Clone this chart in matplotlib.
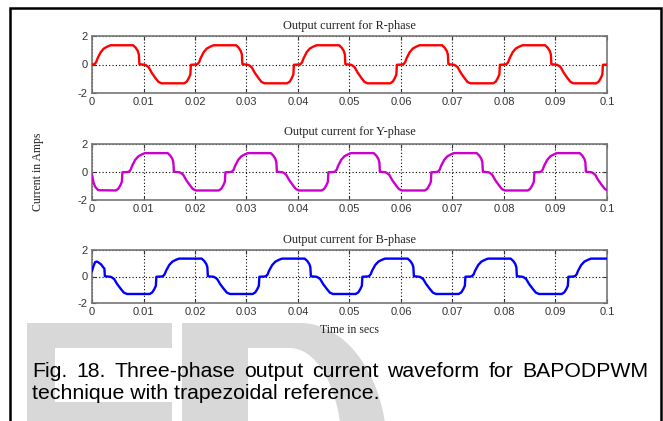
import numpy as np
import matplotlib
matplotlib.use('Agg')
import matplotlib.pyplot as plt
from matplotlib.patches import Polygon, Rectangle

W, H = 663, 421

# one period of the phase current, time measured from the start of the positive half-cycle
cycle_t = [0.0000, 0.0003, 0.0006, 0.0009, 0.0015, 0.0021, 0.0028, 0.0034, 0.0078, 0.0083,
           0.0087, 0.0089, 0.0090, 0.0101, 0.0104, 0.0108, 0.0114, 0.0121, 0.0127, 0.0133,
           0.0177, 0.0182, 0.0186, 0.0189, 0.0190]
cycle_i = [0.00, 0.03, 0.16, 0.45, 0.87, 1.12, 1.26, 1.35, 1.35, 1.17,
           0.94, 0.70, 0.02, -0.02, -0.08, -0.19, -0.58, -0.94, -1.22, -1.32,
           -1.32, -1.20, -0.95, -0.70, -0.02]
period = 0.02

# start of the positive half-cycle for each phase
r_offset = 0.0002
y_offset = 0.0069
b_offset = 0.0135

# start-up transients at t = 0
y_start_t = [0.0, 0.0003, 0.0006, 0.0012]
y_start_i = [-0.20, -0.75, -1.05, -1.30]
b_start_t = [0.0, 0.0003, 0.0006, 0.0009, 0.0012, 0.0018, 0.0022, 0.0024]
b_start_i = [0.42, 0.80, 1.08, 1.13, 1.08, 0.90, 0.68, 0.62]

xticks = [0, 0.01, 0.02, 0.03, 0.04, 0.05, 0.06, 0.07, 0.08, 0.09, 0.1]
xticklabels = ['0', '0.01', '0.02', '0.03', '0.04', '0.05', '0.06', '0.07', '0.08', '0.09', '0.1']
yticks = [-2, 0, 2]

titles = ['Output current for R-phase', 'Output current for Y-phase', 'Output current for B-phase']
colors = ['#ff0000', '#cc00cc', '#0000ff']
caption1 = 'Fig. 18. Three-phase output current waveform for BAPODPWM'
caption2 = 'technique with trapezoidal reference.'


def phase_wave(offset, start_t=None, start_i=None):
    t = np.concatenate([np.array(cycle_t) + offset + k * period for k in range(-1, 6)])
    i = np.tile(cycle_i, 7)
    if start_t is not None:
        keep = t > start_t[-1]
        t = np.concatenate([start_t, t[keep]])
        i = np.concatenate([start_i, i[keep]])
    return t, i


waves = [phase_wave(r_offset),
         phase_wave(y_offset, y_start_t, y_start_i),
         phase_wave(b_offset, b_start_t, b_start_i)]


def fx(px):
    return px / W


def fy(py):
    return 1 - py / H


fig = plt.figure(figsize=(W / 100, H / 100), dpi=100)
fig.patch.set_facecolor('white')

# light grey watermark letters behind the caption
wm = '#d8d8d8'
e_shape = [(27, 323), (172, 323), (172, 348), (55, 348), (55, 402), (172, 402), (172, 430), (27, 430)]
fig.patches.append(Polygon([(fx(x), fy(y)) for x, y in e_shape], closed=True,
                           transform=fig.transFigure, facecolor=wm, edgecolor='none', zorder=0))
th = np.linspace(0, np.pi / 2, 40)
outer = [(182, 323), (300, 323)] + [(300 + 87 * np.sin(a), 450 - 127 * np.cos(a)) for a in th] + [(182, 450)]
inner = [(248, 348), (290, 348)] + [(290 + 52 * np.sin(a), 450 - 102 * np.cos(a)) for a in th] + [(248, 450)]
fig.patches.append(Polygon([(fx(x), fy(y)) for x, y in outer], closed=True,
                           transform=fig.transFigure, facecolor=wm, edgecolor='none', zorder=0))
fig.patches.append(Polygon([(fx(x), fy(y)) for x, y in inner], closed=True,
                           transform=fig.transFigure, facecolor='white', edgecolor='none', zorder=0.5))

# outer frame
fig.patches.append(Rectangle((fx(10), fy(440)), fx(661) - fx(10), fy(8) - fy(440),
                             transform=fig.transFigure, fill=False, edgecolor='black',
                             linewidth=1.8, zorder=1))

boxes = [(92, 36, 607, 93), (92, 144, 607, 200), (92, 250, 607, 303)]
title_y = [26, 132, 240]

for k, (l, t, r, b) in enumerate(boxes):
    ax = fig.add_axes([fx(l), fy(b), fx(r) - fx(l), fy(t) - fy(b)])
    tt, ii = waves[k]
    ax.plot(tt, ii, color=colors[k], linewidth=1.7, zorder=3)
    ax.set_xlim(0, 0.1)
    ax.set_ylim(-2, 2)
    ax.set_xticks(xticks)
    ax.set_xticklabels(xticklabels)
    ax.set_yticks(yticks)
    ax.set_yticklabels(['-2', '0', '2'])
    ax.grid(True, color='black', linestyle=(0, (1, 2)), linewidth=0.8)
    ax.tick_params(direction='in', top=True, right=True, length=3, width=0.8,
                   labelsize=8, pad=3, colors='#333333')
    for lab in ax.get_xticklabels() + ax.get_yticklabels():
        lab.set_family('Liberation Sans')
    for s in ax.spines.values():
        s.set_color('#777777')
        s.set_linewidth(1.2)
    fig.text(fx((l + r) / 2), fy(title_y[k]), titles[k], ha='center', va='center',
             family='Liberation Serif', fontsize=8.8, color='#222222')

fig.text(fx(349), fy(330), 'Time in secs', ha='center', va='center',
         family='Liberation Serif', fontsize=8.5, color='#222222')
fig.text(fx(38), fy(172), 'Current in Amps', ha='center', va='center', rotation=90,
         family='Liberation Serif', fontsize=8.5, color='#222222')

# caption, first line justified between the margins
cap_size = 15.3
renderer = fig.canvas.get_renderer()
words = caption1.split(' ')
arts = [fig.text(0, fy(377), w, ha='left', va='baseline', family='Liberation Sans',
                 fontsize=cap_size, color='black', zorder=5) for w in words]
widths = [a.get_window_extent(renderer).width for a in arts]
left, right = 32, 648
gap = (right - left - sum(widths)) / (len(words) - 1)
x = left
for a, w in zip(arts, widths):
    a.set_x(fx(x))
    x += w + gap
fig.text(fx(32), fy(399), caption2, ha='left', va='baseline', family='Liberation Sans',
         fontsize=cap_size, color='black', zorder=5)

fig.savefig('out.png', dpi=100)
